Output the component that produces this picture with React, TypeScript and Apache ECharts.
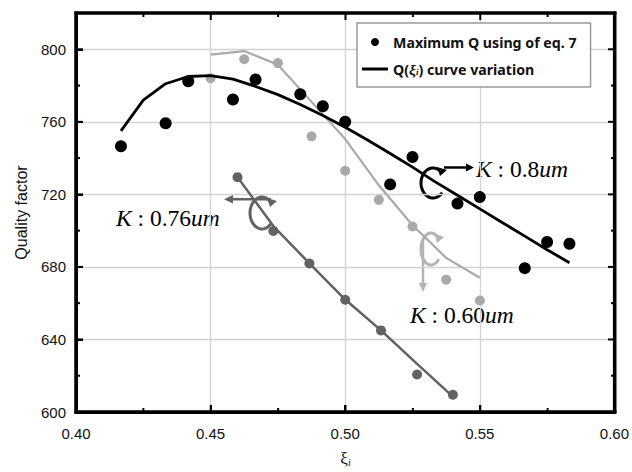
import React, { useEffect, useRef } from "react";
import * as echarts from "echarts";

// ---- data ----
const blackX = [0.4167, 0.4333, 0.4417, 0.4583, 0.4667, 0.4833, 0.4917, 0.5, 0.5167, 0.525, 0.5417, 0.55, 0.5667, 0.575, 0.5833];
const blackY = [746.5, 759.2, 782.3, 772.3, 783.3, 775.2, 768.6, 760, 725.5, 740.6, 714.9, 718.5, 679.3, 693.7, 692.8];

const curveX = [0.4167, 0.425, 0.4333, 0.4417, 0.45, 0.4583, 0.4667, 0.475, 0.4833, 0.4917, 0.5, 0.5083, 0.5167, 0.525, 0.5333, 0.5417, 0.55, 0.5583, 0.5667, 0.575, 0.5833];
const curveY = [755, 772, 781, 785, 785.5, 783.5, 779.5, 775, 769.5, 763.5, 757, 750, 742.5, 735, 727, 719.5, 712, 704.5, 697, 689.5, 682.3];

const lightX = [0.45, 0.4625, 0.475, 0.4875, 0.5, 0.5125, 0.525, 0.5375, 0.55];
const lightPointsY = [784, 794.5, 792.4, 752, 733, 717, 702.3, 673, 661.5];
const lightLineY = [797, 799, 791.5, 771, 750.5, 725, 703, 685, 674];

const darkX = [0.46, 0.4733, 0.4867, 0.5, 0.5133, 0.5267, 0.54];
const darkPointsY = [729.5, 699.8, 681.9, 661.9, 645, 620.7, 609.5];
const darkLineY = [729.5, 702.5, 682, 662, 645, 626.5, 608.5];

const xTicks = { min: 0.4, max: 0.6, interval: 0.05 };
const yTicks = { min: 600, max: 820, interval: 40 };
const xMajorTicks = [0.45, 0.5, 0.55];
const xMinorTicks = [0.425, 0.475, 0.525, 0.575];
const yMajorTicks = [640, 680, 720, 760, 800];
const yMinorTicks = [620, 660, 700, 740, 780];

const SCATTER_NAME = "Maximum Q using of eq. 7";
const CURVE_NAME = "Q(ξi) curve variation";

const W = 632;
const H = 472;
const GRID = { left: 76, right: 17, top: 13, bottom: 60 };

const zip = (xs: number[], ys: number[]) => xs.map((x, i) => [x, ys[i]]);

function cArc(cx: number, cy: number, rx: number, ry: number, a0: number, a1: number, n = 30) {
  const pts: number[][] = [];
  for (let k = 0; k <= n; k++) {
    const a = ((a0 + ((a1 - a0) * k) / n) * Math.PI) / 180;
    pts.push([cx + rx * Math.cos(a), cy + ry * Math.sin(a)]);
  }
  return pts;
}

function curlyGroup(color: string, c: { cx: number; cy: number; rx: number; ry: number }, hook: number[][], line: number[], head: number[][]) {
  return {
    type: "group",
    silent: true,
    children: [
      { type: "polyline", shape: { points: cArc(c.cx, c.cy, c.rx, c.ry, 40, 320) }, style: { stroke: color, lineWidth: 3, fill: null } },
      { type: "polygon", shape: { points: hook }, style: { fill: color } },
      { type: "line", shape: { x1: line[0], y1: line[1], x2: line[2], y2: line[3] }, style: { stroke: color, lineWidth: 2.5 } },
      { type: "polygon", shape: { points: head }, style: { fill: color } },
    ],
  };
}

function kText(x: number, y: number, value: string) {
  const serif = "'Liberation Serif', 'Times New Roman', serif";
  return {
    type: "text",
    x,
    y,
    silent: true,
    style: {
      text: `{i|K} : ${value}{i|um}`,
      fontFamily: serif,
      fontSize: 23.5,
      fill: "#000",
      verticalAlign: "middle",
      align: "left",
      rich: {
        i: { fontStyle: "italic", fontFamily: serif, fontSize: 23.5, fill: "#000" },
      },
    },
  };
}

// frame + inward ticks as filled bars (polygons), placed with the grid's linear mapping
function frameAndTicks() {
  const x0 = GRID.left;
  const x1 = W - GRID.right;
  const y0 = GRID.top;
  const y1 = H - GRID.bottom;
  const fx = (v: number) => x0 + ((v - xTicks.min) / (xTicks.max - xTicks.min)) * (x1 - x0);
  const fy = (v: number) => y1 - ((v - yTicks.min) / (yTicks.max - yTicks.min)) * (y1 - y0);
  const bar = (ax: number, ay: number, bx: number, by: number) => ({
    type: "polygon",
    silent: true,
    zlevel: 1,
    z: 50,
    shape: { points: [[ax, ay], [bx, ay], [bx, by], [ax, by]] },
    style: { fill: "#000" },
  });
  const t = 1.5;
  const els: any[] = [
    bar(x0 - t, y0 - t, x1 + t, y0 + t),
    bar(x0 - t, y1 - t, x1 + t, y1 + t),
    bar(x0 - t, y0 - t, x0 + t, y1 + t),
    bar(x1 - t, y0 - t, x1 + t, y1 + t),
  ];
  const addX = (v: number, len: number) => {
    const px = fx(v);
    els.push(bar(px - 1, y1 - len, px + 1, y1));
    els.push(bar(px - 1, y0, px + 1, y0 + len));
  };
  const addY = (v: number, len: number) => {
    const py = fy(v);
    els.push(bar(x0, py - 1, x0 + len, py + 1));
    els.push(bar(x1 - len, py - 1, x1, py + 1));
  };
  xMajorTicks.forEach((v) => addX(v, 7));
  xMinorTicks.forEach((v) => addX(v, 4));
  yMajorTicks.forEach((v) => addY(v, 7));
  yMinorTicks.forEach((v) => addY(v, 4));
  return els;
}

export default function App() {
  const ref = useRef<HTMLDivElement>(null);
  useEffect(() => {
    if (!ref.current) return;
    const chart = echarts.init(ref.current, null, { renderer: "svg" });
    const labelFont = { fontFamily: "'Liberation Sans', Arial, sans-serif", fontSize: 15, color: "#111" };
    const split = { show: true, showMinLine: false, showMaxLine: false, lineStyle: { color: "#d2d2d2", width: 1.3 } };
    const serif = "'Liberation Serif', 'Times New Roman', serif";
    chart.setOption({
      animation: false,
      grid: { ...GRID, show: true, borderColor: "#000", borderWidth: 3, backgroundColor: "transparent" },
      legend: {
        orient: "vertical",
        left: 357,
        top: 23,
        data: [
          { name: SCATTER_NAME },
          { name: CURVE_NAME, icon: "path://M0,0L26,0L26,3L0,3Z", itemStyle: { color: "#000" } },
        ],
        itemWidth: 26,
        itemHeight: 8,
        itemGap: 12,
        padding: [12, 14, 10, 5],
        borderColor: "#9a9a9a",
        borderWidth: 1.5,
        backgroundColor: "#fff",
        formatter: (name: string) => (name === CURVE_NAME ? "Q({xi|ξ}{sub|i}) curve variation" : name),
        textStyle: {
          fontFamily: "'Noto Sans', 'Open Sans', sans-serif",
          fontWeight: "bold",
          fontSize: 14.2,
          color: "#111",
          rich: {
            xi: { fontFamily: serif, fontStyle: "italic", fontWeight: "bold", fontSize: 15.5, color: "#111" },
            sub: { fontFamily: serif, fontStyle: "italic", fontSize: 9, color: "#111", padding: [6, 0, 0, 0] },
          },
        },
      },
      xAxis: {
        type: "value",
        min: xTicks.min,
        max: xTicks.max,
        interval: xTicks.interval,
        axisLine: { show: true, onZero: false, lineStyle: { color: "#000", width: 3 } },
        axisTick: { show: true, inside: true, length: 7, lineStyle: { color: "#000", width: 2 } },
        axisLabel: { ...labelFont, margin: 14, formatter: (v: number) => v.toFixed(2) },
        splitLine: split,
      },
      yAxis: {
        type: "value",
        min: yTicks.min,
        max: yTicks.max,
        interval: yTicks.interval,
        axisLine: { show: true, onZero: false, lineStyle: { color: "#000", width: 3 } },
        axisTick: { show: true, inside: true, length: 7, lineStyle: { color: "#000", width: 2 } },
        name: "Quality factor",
        nameLocation: "middle",
        nameGap: 47,
        nameTextStyle: { fontFamily: "'Liberation Sans', Arial, sans-serif", fontSize: 16, color: "#111" },
        axisLabel: { ...labelFont, margin: 10, showMaxLabel: false },
        splitLine: split,
      },
      series: [
        {
          name: "K0.60 line",
          type: "line",
          data: zip(lightX, lightLineY),
          showSymbol: false,
          symbol: "none",
          lineStyle: { color: "#a9a9a9", width: 2.2 },
          z: 2,
        },
        {
          name: "K0.60 points",
          type: "scatter",
          data: zip(lightX, lightPointsY),
          symbolSize: 10,
          itemStyle: { color: "#a9a9a9", opacity: 1 },
          z: 2,
        },
        {
          name: "K0.76 line",
          type: "line",
          data: zip(darkX, darkLineY),
          showSymbol: false,
          symbol: "none",
          lineStyle: { color: "#626262", width: 2.5 },
          z: 3,
        },
        {
          name: "K0.76 points",
          type: "scatter",
          data: zip(darkX, darkPointsY),
          symbolSize: 10,
          itemStyle: { color: "#626262", opacity: 1 },
          z: 3,
        },
        {
          name: CURVE_NAME,
          type: "line",
          data: zip(curveX, curveY),
          showSymbol: false,
          symbol: "none",
          lineStyle: { color: "#000", width: 2.8 },
          itemStyle: { color: "#000" },
          z: 4,
        },
        {
          name: SCATTER_NAME,
          type: "scatter",
          data: zip(blackX, blackY),
          symbolSize: 12,
          itemStyle: { color: "#000", opacity: 1 },
          z: 5,
        },
      ],
      graphic: [
        ...frameAndTicks(),
        {
          type: "text",
          x: (GRID.left + W - GRID.right) / 2,
          y: 458,
          silent: true,
          style: {
            text: "{a|ξ}{b|i}",
            align: "center",
            verticalAlign: "middle",
            rich: {
              a: { fontFamily: serif, fontSize: 17, fill: "#111" },
              b: { fontFamily: serif, fontStyle: "italic", fontSize: 10, fill: "#111", padding: [8, 0, 0, 0] },
            },
          },
        },
        curlyGroup(
          "#000",
          { cx: 433, cy: 183, rx: 12, ry: 15 },
          [[437, 167], [447, 170], [440, 176]],
          [444, 167.5, 467, 167.5],
          [[466, 163.5], [474, 167.5], [466, 171.5]]
        ),
        kText(476, 169, "0.8"),
        curlyGroup(
          "#626262",
          { cx: 262, cy: 213, rx: 12, ry: 16 },
          [[267, 198], [277, 201], [270, 207]],
          [271, 199.3, 232, 199.3],
          [[233, 195], [224, 199.3], [233, 203.5]]
        ),
        kText(116, 218, "0.76"),
        curlyGroup(
          "#b4b4b4",
          { cx: 431, cy: 249, rx: 10, ry: 16 },
          [[435, 234], [444, 237], [437, 243]],
          [423, 240, 423, 284],
          [[419, 283], [423, 292], [427, 283]]
        ),
        kText(410, 315, "0.60"),
      ],
    });
    return () => chart.dispose();
  }, []);
  return <div ref={ref} style={{ position: "fixed", left: 0, top: 0, width: W, height: H, background: "#fff" }} />;
}
